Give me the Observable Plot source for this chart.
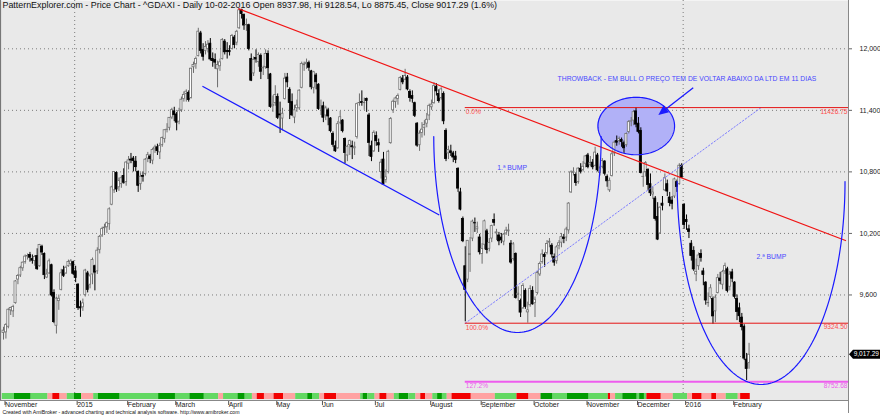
<!DOCTYPE html>
<html><head><meta charset="utf-8">
<script src="https://cdn.jsdelivr.net/npm/d3@7"></script>
<script src="https://cdn.jsdelivr.net/npm/@observablehq/plot@0.6"></script>
<style>html,body{margin:0;padding:0;background:#fff;overflow:hidden}</style>
</head><body><div id="chart"></div>
<script>
// ---- Daily ^GDAXI bars, 14-11-2014 .. 10-02-2016 (one row per month) ----
const opens = [
9230,9235,9290,9450,9440,9520,9750,9790,9860,9920,9975,
9990,9950,9930,9980,9880,10070,10000,9770,9810,9890,9620,9300,9540,9650,9840,9810,9880,9900,9920,
9830,9700,9480,9480,9600,9810,9700,9800,9880,9830,10040,10180,10250,10260,10290,10480,10620,10790,10650,10680,10760,
10700,10880,10920,10930,10900,10800,10680,10760,10780,10930,10950,10910,11020,11040,10990,11060,11120,11210,11230,11330,
11390,11360,11290,11400,11510,11560,11570,11520,11820,11850,11930,12150,11990,11980,12000,12050,11900,11890,11800,11830,11900,12070,
11980,11980,12000,12110,12060,12200,12380,12330,12230,12230,11900,11760,11910,11870,11930,11810,11820,11950,11750,11440,
11470,11530,11360,11320,11510,11720,11600,11480,11330,11420,11420,11620,11840,11850,11860,11780,11620,11740,11650,
11420,11440,11350,11400,11320,11170,11050,11030,11280,11300,11120,10960,11060,11050,11030,11140,11470,11480,11470,11510,11350,11050,
11000,11150,11080,10800,10920,10720,10800,11080,11400,11480,11510,11600,11710,11700,11720,11580,11540,11470,11270,11060,11180,11230,11270,
11350,11430,11470,11630,11560,11520,11560,11200,10980,11000,10980,10950,10830,10600,10340,9880,9750,9990,10150,10300,10240,
10160,10000,10090,10220,10050,10150,10330,10200,10180,10160,10120,10200,10220,10100,9950,10000,9600,9540,9470,9640,9430,9500,
9640,9520,9620,9800,9920,9990,10010,10110,10080,9970,9930,10080,10110,10160,10160,10230,10600,10790,10770,10700,10830,10820,
10880,10960,10870,10890,10860,10960,10790,10850,10900,10750,10620,10760,10980,11100,11100,11110,11080,11060,11190,11290,11300,
11390,11270,11200,10750,10800,10820,10680,10580,10540,10360,10200,10490,10620,10680,10550,10520,10560,10700,10680,10860,
10480,10330,10240,10100,10030,9800,9880,10000,9830,9720,9520,9580,9560,9440,9620,9760,9700,9830,9850,9680,
9820,9720,9560,9470,9380,9290,8970,8937.98];
const highs = [
9285,9320,9465,9480,9500,9740,9800,9880,9920,9990,10000,
10015,9990,9985,10050,10093,10085,10010,9850,9950,9900,9650,9580,9600,9850,9880,9880,9940,9945,9930,
9880,9710,9540,9560,9850,9830,9800,9960,9890,10060,10180,10260,10290,10310,10450,10660,10800,10800,10740,10760,10830,
10900,10950,10980,10950,10950,10810,10790,10800,10930,10990,10970,11030,11060,11070,11080,11140,11210,11270,11330,11420,
11430,11380,11420,11530,11580,11600,11590,11810,11870,11920,12200,12170,12050,12070,12080,12100,11960,11950,11880,11900,12100,12090,
12060,12030,12140,12130,12180,12390,12385,12340,12290,12240,11950,11920,11990,11960,11950,11830,11990,11980,11760,11540,
11640,11560,11480,11420,11760,11760,11620,11560,11450,11500,11600,11870,11870,11900,11880,11790,11780,11760,11660,
11500,11480,11440,11420,11330,11190,11100,11290,11390,11310,11130,11060,11110,11100,11090,11470,11560,11590,11520,11520,11370,11100,
11200,11190,11120,10920,10990,10820,11010,11330,11500,11530,11560,11730,11740,11800,11740,11600,11590,11480,11280,11200,11280,11300,11370,
11460,11500,11670,11660,11600,11620,11580,11220,11050,11060,11000,11000,10840,10640,10360,10070,10130,10160,10330,10350,10310,
10190,10100,10330,10240,10150,10280,10390,10240,10210,10200,10200,10260,10290,10130,10110,10010,9680,9560,9710,9660,9530,9690,
9680,9580,9830,9920,10040,10010,10130,10150,10100,10000,10080,10130,10200,10190,10260,10500,10810,10840,10790,10840,10880,10900,
10960,10980,10950,10920,11040,10980,10850,10930,10910,10770,10740,10990,11100,11150,11140,11130,11100,11180,11300,11330,11400,
11427,11330,11230,10800,10900,10830,10780,10650,10560,10500,10460,10560,10780,10720,10600,10560,10740,10720,10880,10880,
10490,10380,10280,10130,10070,9950,10010,10040,9860,9730,9620,9700,9580,9600,9800,9820,9840,9910,9870,9830,
9850,9730,9600,9520,9420,9310,9030,9128.54];
const lows = [
9160,9170,9270,9400,9380,9510,9700,9770,9830,9900,9940,
9920,9900,9880,9840,9870,9985,9750,9760,9800,9580,9320,9219,9450,9640,9770,9800,9870,9880,9790,
9720,9450,9382,9440,9580,9620,9660,9700,9640,9800,10000,10160,10180,10200,10230,10470,10590,10600,10610,10640,10680,
10660,10820,10880,10800,10800,10600,10620,10700,10760,10890,10880,10870,10980,10960,10920,11040,11080,11180,11200,11310,
11290,11200,11260,11380,11480,11480,11480,11510,11760,11800,11920,11950,11880,11940,11960,11880,11820,11800,11620,11780,11890,11940,
11900,11930,11990,12000,12030,12190,12290,12180,12170,11980,11680,11730,11860,11820,11700,11740,11800,11700,11420,11380,
11440,11310,11175,11200,11500,11620,11310,11340,11270,11380,11400,11610,11780,11800,11780,11600,11560,11600,11400,
11350,11280,11300,11250,11180,11040,10990,11020,11260,11180,10880,10900,10960,10920,10960,11120,11440,11440,11400,11380,10950,10900,
10990,11050,10990,10730,10676,10690,10780,11070,11370,11420,11450,11590,11650,11690,11590,11480,11470,11330,11040,11000,11130,11150,11230,
11300,11400,11460,11540,11470,11500,11260,10900,10920,10950,10890,10880,10600,10420,10110,9338,9720,9820,10120,10210,10200,
9990,9900,10040,10000,10020,10110,10270,10130,10080,10100,10080,10180,10170,9900,9930,9560,9540,9380,9460,9460,9325,9480,
9500,9380,9600,9780,9900,9870,9990,10060,9960,9880,9900,10040,10060,10100,10120,10200,10590,10760,10660,10680,10780,10800,
10840,10830,10850,10820,10850,10800,10760,10830,10760,10650,10600,10750,10950,11050,11060,11040,10980,11040,11170,11240,11250,
11230,11170,10780,10650,10750,10620,10560,10530,10320,10130,10190,10420,10610,10560,10460,10430,10540,10600,10670,10740,
10240,10230,10150,9930,9830,9730,9840,9920,9690,9500,9480,9560,9314,9330,9610,9700,9650,9800,9620,9640,
9720,9560,9350,9330,9250,8960,8766,8875.45];
const closes = [
9252,9306,9456,9473,9483,9732,9785,9861,9915,9974,9980,
9963,9934,9971,9851,10087,10014,9793,9799,9928,9595,9335,9564,9563,9811,9787,9865,9922,9927,9806,
9765,9473,9469,9518,9838,9649,9781,9941,9818,10032,10167,10242,10257,10299,10435,10649,10798,10628,10710,10738,10694,
10891,10912,10911,10905,10846,10664,10753,10752,10919,10963,10924,11014,11037,11002,11051,11131,11206,11211,11327,11402,
11353,11280,11391,11504,11551,11582,11500,11806,11843,11901,12167,11980,11922,12019,12040,11896,11880,11865,11843,11868,12086,11966,
11968,11967,12124,12036,12166,12375,12339,12227,12232,11999,11689,11892,11896,11940,11776,11811,11950,11811,11432,11454,
11550,11327,11351,11367,11709,11673,11472,11351,11400,11447,11592,11853,11848,11864,11815,11625,11771,11674,11413,
11436,11328,11419,11340,11197,11064,11001,11265,11333,11197,10984,11045,11100,11040,11041,11460,11471,11472,11473,11492,11083,10945,
11181,11099,11058,10890,10676,10747,10996,11316,11484,11516,11539,11716,11673,11735,11604,11520,11512,11347,11056,11173,11212,11257,11308,
11444,11456,11636,11585,11490,11604,11293,10925,11014,10985,10940,10915,10637,10432,10124,9648,10128,9997,10315,10298,10259,
10016,10048,10318,10038,10108,10271,10303,10210,10123,10132,10188,10227,10229,9916,10093,9571,9612,9428,9688,9483,9450,9660,
9509,9553,9814,9902,9995,9970,10096,10119,9995,9915,10064,10104,10164,10147,10238,10491,10795,10801,10692,10832,10801,10850,
10951,10846,10887,10845,10988,10815,10833,10907,10782,10708,10713,10971,11085,11085,11119,11092,11030,11170,11285,11293,11382,
11261,11190,10789,10752,10886,10673,10592,10598,10340,10140,10451,10470,10738,10608,10497,10489,10727,10653,10860,10743,
10283,10310,10214,9979,9849,9825,9985,9960,9794,9546,9521,9665,9391,9574,9764,9737,9822,9881,9639,9798,
9758,9582,9434,9393,9286,8979,8879,9017.29];

// ---- Axis categories ----
const monthLabels    = ["November","2015","February","March","April","May","Jun","Jul","August","September","October","November","December","2016","February"];
const monthStartBars = [0,30,51,71,93,113,132,154,177,198,220,242,263,283,303];
const yearStartBars  = [30,283];
const yTickValues    = [9600,10200,10800,11400,12000];
const gridValues     = [9000,9600,10200,10800,11400,12000];

// ---- Bottom colour ribbon (runs: first bar, colour key) ----
const ribbonStarts = [0,5,12,19,21,24,27,30,33,38,40,49,65,72,78,84,90,92,98,101,104,106,109,113,117,122,127,129,132,134,139,149,150,152,155,157,160,163,165,169,172,174,176,179,181,183,185,187,195,205,214,219,224,229,235,244,252,253,255,258,264,265,267,268,274,279,285,287,291,295,297,301,306,307];
const ribbonKeys   = ["L","D","L","P","R","P","L","D","P","L","D","L","D","L","D","L","P","L","D","L","P","R","P","R","P","L","D","L","P","R","P","L","D","L","P","R","P","L","D","L","P","R","P","L","D","L","P","R","P","L","R","P","D","L","D","L","R","P","L","D","L","D","L","R","P","L","P","R","P","R","P","L","P","R"];
const ribbonPalette = {L: "#62d862", D: "#009b00", R: "#f20000", P: "#ffa2a2"};

// ---- Hand-drawn studies (bar index, price) ----
const ltdLine     = [[97.8, 12390], [350.1, 10131]];
const channelLine = [[82.9, 11633], [181.0, 10382]];
const fibStartBar = 192;
const fibLevels   = [11426.75, 9324.50, 8752.68];
const fibPercents = ["0.0%", "100.0%", "127.2%"];
const fibValueTxt = ["11426.75", "9324.50", "8752.68"];
const fibColors   = ["#e41414", "#e41414", "#ee5cee"];
const fibLabelCol = ["#ff4c4c", "#ff4c4c", "#ee5cee"];
const fibDiagonal = [[192, 9324.5], [315, 11426.75]];
const bumpArcs    = [{cx: 213.7, cy: 11145, rx: 34.8, ry: 1911}, {cx: 315.0, cy: 10706, rx: 34.9, ry: 1979}];
const throwbackEllipse = {cx: 263.1, cy: 11247, rx: 15.93, ry: 280};
const arrowPts    = [[287.0, 11616], [272.5, 11350]];
const notes = [
  {x: 230.4, y: 11708, text: "THROWBACK - EM BULL O PREÇO TEM DE VOLTAR ABAIXO DA LTD EM 11 DIAS"},
  {x: 205.3, y: 10840, text: "1.ª BUMP"},
  {x: 313.1, y: 9975,  text: "2.ª BUMP"}
];
const headerText = "PatternExplorer.com - Price Chart - ^GDAXI - Daily 10-02-2016 Open 8937.98, Hi 9128.54, Lo 8875.45, Close 9017.29 (1.6%)";
const footerText = "Created with AmiBroker - advanced charting and technical analysis software. http://www.amibroker.com";

// ---- build tables ----
const xDomain = [-1.25, 351.35];
const yDomain = [8571, 12471];
const bars = closes.map((c, i) => ({i, o: opens[i], h: highs[i], l: lows[i], c, up: c >= opens[i]}));
const ribbonRuns = ribbonStarts.map((s, k) => ({start: s, end: k + 1 < ribbonStarts.length ? ribbonStarts[k + 1] : closes.length, key: ribbonKeys[k]}));
const labelByBar = new Map(monthStartBars.map((b, k) => [b, monthLabels[k]]));
function arc(e, t0, t1, n) {
  const pts = [];
  for (let k = 0; k <= n; k++) { const t = t0 + (t1 - t0) * k / n; pts.push({x: e.cx + e.rx * Math.cos(t), y: e.cy + e.ry * Math.sin(t)}); }
  return pts;
}
const ellBand = arc(throwbackEllipse, 0, Math.PI, 80).map(p => ({x: p.x, lo: 2 * throwbackEllipse.cy - p.y, hi: p.y}));
const ellLoop = arc(throwbackEllipse, 0, 2 * Math.PI, 160);
const fibRows = fibLevels.map((v, k) => ({v, pct: fibPercents[k], txt: fibValueTxt[k], col: fibColors[k], lab: fibLabelCol[k], w: k === 2 ? 2 : 1}));
const BLUE = "#1a1aff";

const chart = Plot.plot({
  width: 880, height: 415,
  marginLeft: 0, marginRight: 32, marginTop: 0, marginBottom: 15,
  x: {domain: xDomain},
  y: {domain: yDomain},
  style: {background: "#fff", fontFamily: "'Liberation Sans', Arial, sans-serif", overflow: "visible"},
  marks: [
    Plot.frame({fill: "#e9e9e9", stroke: "none"}),
    Plot.ruleY(gridValues, {stroke: "#7c7c7c", strokeDasharray: "1,3", strokeWidth: 1}),
    Plot.ruleX(yearStartBars, {x: d => d - 0.4, stroke: "#7c7c7c", strokeDasharray: "1,3", strokeWidth: 1}),
    // throwback ellipse fill
    Plot.areaY(ellBand, {x: "x", y1: "lo", y2: "hi", fill: "#b1b1f7"}),
    // ribbon
    Plot.rect(ribbonRuns, {x1: d => d.start - 0.5, x2: d => d.end - 0.5, fill: d => ribbonPalette[d.key], insetTop: 393, insetBottom: 1}),
    // candles
    Plot.ruleX(bars, {x: "i", y1: "l", y2: "h", stroke: d => d.up ? "#6e6e6e" : "#000", strokeWidth: 1}),
    Plot.rect(bars, {x1: d => d.i - 0.42, x2: d => d.i + 0.42, y1: "o", y2: "c",
      fill: d => d.up ? "#fff" : "#000", stroke: d => d.up ? "#6e6e6e" : "#000", strokeWidth: 0.8}),
    // studies
    Plot.line(ellLoop, {x: "x", y: "y", stroke: BLUE, strokeWidth: 1.2}),
    Plot.line(channelLine, {x: d => d[0], y: d => d[1], stroke: BLUE, strokeWidth: 1.3}),
    Plot.line(ltdLine, {x: d => d[0], y: d => d[1], stroke: "#f01414", strokeWidth: 1.3}),
    Plot.line(fibDiagonal, {x: d => d[0], y: d => d[1], stroke: "#7d7dff", strokeWidth: 1, strokeDasharray: "1.5,2"}),
    Plot.ruleY(fibRows, {y: "v", x1: () => fibStartBar, x2: () => xDomain[1], stroke: "col", strokeWidth: "w"}),
    Plot.text(fibRows, {x: () => fibStartBar, y: "v", text: "pct", fill: "lab", fontSize: 6.6, textAnchor: "start", dx: 0.5, dy: 4.5, lineAnchor: "middle"}),
    Plot.text(fibRows, {x: () => xDomain[1], y: "v", text: "txt", fill: "lab", fontSize: 6.6, textAnchor: "end", dx: -1, dy: 4, lineAnchor: "middle"}),
    bumpArcs.map(b => Plot.line(arc(b, Math.PI, 2 * Math.PI, 120), {x: "x", y: "y", stroke: BLUE, strokeWidth: 1.2})),
    Plot.text(notes, {x: "x", y: "y", text: "text", fill: "#4747ff", fontSize: 6.8, textAnchor: "start", lineAnchor: "middle"}),
    // arrow with filled head
    (index, scales) => {
      const [a, b] = arrowPts;
      const x1 = scales.x(a[0]), y1 = scales.y(a[1]), x2 = scales.x(b[0]), y2 = scales.y(b[1]);
      const ang = Math.atan2(y2 - y1, x2 - x1), L = 10, W = 4.5;
      const bx = x2 - L * Math.cos(ang), by = y2 - L * Math.sin(ang);
      const g = d3.create("svg:g");
      g.append("line").attr("x1", x1).attr("y1", y1).attr("x2", bx).attr("y2", by).attr("stroke", BLUE).attr("stroke-width", 1.3);
      g.append("path").attr("fill", BLUE)
        .attr("d", `M${x2},${y2}L${bx + W * Math.sin(ang)},${by - W * Math.cos(ang)}L${bx - W * Math.sin(ang)},${by + W * Math.cos(ang)}Z`);
      return g.node();
    },
    // axes
    Plot.axisX(monthStartBars, {anchor: "bottom", tickSize: 5, tickPadding: -3.5, textAnchor: "start", dx: 1.5,
      tickFormat: d => labelByBar.get(d), fontSize: 7, stroke: "#555", fill: "#222"}),
    Plot.axisY(yTickValues, {anchor: "right", tickSize: 3, tickPadding: 8, tickFormat: d3.format(","), fontSize: 7, stroke: "#666", fill: "#222"}),
    Plot.text([headerText], {frameAnchor: "top-left", dx: 2, dy: 1.2, lineAnchor: "top", fontSize: 8.9, fill: "#111"}),
    Plot.text([footerText], {frameAnchor: "bottom-left", dx: 2, dy: 12, lineAnchor: "middle", fontSize: 5.2, fill: "#111"}),
    // frame lines + last price tag
    (index, scales, values, dims) => {
      const g = d3.create("svg:g");
      const xr = dims.width - dims.marginRight, yb = dims.height - dims.marginBottom;
      g.append("line").attr("x1", 0.5).attr("x2", 0.5).attr("y1", 0).attr("y2", yb).attr("stroke", "#777").attr("stroke-width", 1.2);
      g.append("line").attr("x1", 0).attr("x2", xr).attr("y1", yb + 0.5).attr("y2", yb + 0.5).attr("stroke", "#888");
      g.append("line").attr("x1", xr + 0.5).attr("x2", xr + 0.5).attr("y1", 0).attr("y2", yb + 13).attr("stroke", "#888");
      const last = closes[closes.length - 1], yy = scales.y(last);
      g.append("path").attr("fill", "#000")
        .attr("d", `M${xr + 1},${yy}L${xr + 5},${yy - 4.5}L${dims.width},${yy - 4.5}L${dims.width},${yy + 4.5}L${xr + 5},${yy + 4.5}Z`);
      g.append("text").attr("x", dims.width - 1).attr("y", yy).attr("dy", "0.34em").attr("fill", "#fff").attr("font-size", 6.5)
        .attr("text-anchor", "end").text(d3.format(",.2f")(last));
      return g.node();
    }
  ]
});
document.getElementById("chart").appendChild(chart);
</script>
</body></html>
